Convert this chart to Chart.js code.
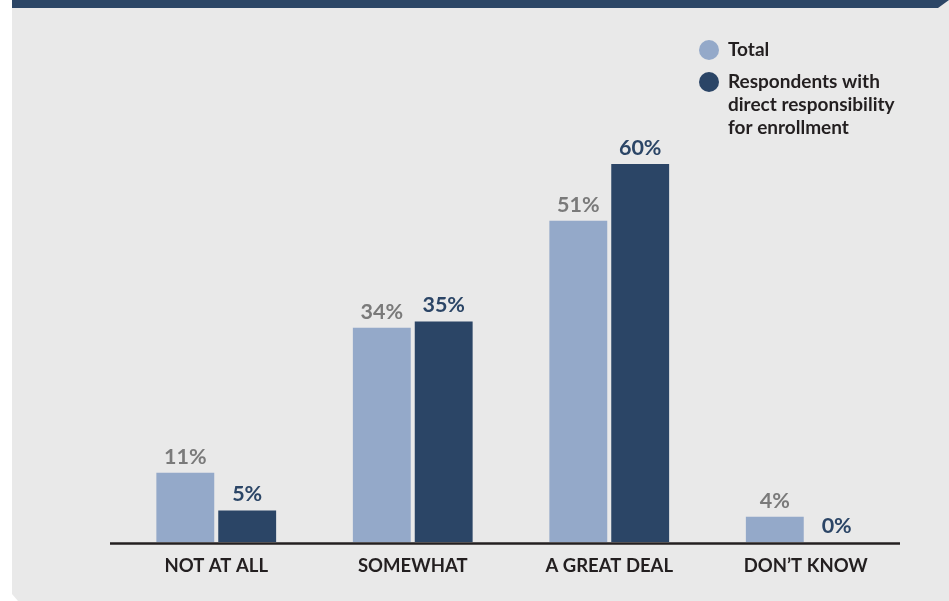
<!DOCTYPE html>
<html>
<head>
<meta charset="utf-8">
<script src="https://cdn.jsdelivr.net/npm/chart.js@4"></script>
<style>
  html, body { margin: 0; padding: 0; background: #ffffff; }
  #wrap { position: relative; width: 949px; height: 601px; overflow: hidden; }
  #panel {
    position: absolute; left: 12px; top: 0; width: 937px; height: 601px;
    background: #e9e9e9;
    clip-path: polygon(0 0, 100% 0, 100% 100%, 6px 100%, 0 594px);
  }
  #band {
    position: absolute; left: 12px; top: 0; width: 937px; height: 8px;
    background: #2c4666;
    clip-path: polygon(0 0, 100% 0, 926px 100%, 0 100%);
  }
  canvas { position: absolute; left: 0; top: 0; }
</style>
</head>
<body>
<div id="wrap">
  <div id="panel"></div>
  <div id="band"></div>
  <canvas id="chart" width="949" height="601"></canvas>
</div>
<script>
/* data */
const categories = ['NOT AT ALL', 'SOMEWHAT', 'A GREAT DEAL', 'DON\u2019T KNOW'];
const totalValues = [11, 34, 51, 4];
const directValues = [5, 35, 60, 0];
const totalLabel = ['Total'];
const directLabel = ['Respondents with', 'direct responsibility', 'for enrollment'];

/* styles */
const LIGHT = '#94a9c9';
const DARK = '#2b4566';
const TEXT = '#231f20';
const GRAY_TEXT = '#7a7a7a';
const FONT = 'Lato, "Open Sans", sans-serif';

const valueLabels = {
  id: 'valueLabels',
  afterDatasetsDraw: (chart) => {
    const ctx = chart.ctx;
    ctx.save();
    ctx.font = 'bold 21.5px ' + FONT;
    ctx.textAlign = 'center';
    ctx.textBaseline = 'middle';
    chart.data.datasets.forEach((dataset, i) => {
      const meta = chart.getDatasetMeta(i);
      ctx.fillStyle = dataset.labelColor;
      meta.data.forEach((bar, j) => {
        ctx.fillText(dataset.data[j] + '%', bar.x, bar.y - 16);
      });
    });
    ctx.restore();
  },
};

const axisLine = {
  id: 'axisLine',
  afterDatasetsDraw: (chart) => {
    const ctx = chart.ctx;
    const area = chart.chartArea;
    ctx.save();
    ctx.strokeStyle = TEXT;
    ctx.lineWidth = 2.5;
    ctx.beginPath();
    ctx.moveTo(area.left - 8, area.bottom + 1.5);
    ctx.lineTo(area.right - 4, area.bottom + 1.5);
    ctx.stroke();
    ctx.restore();
  },
};

const sideLegend = {
  id: 'sideLegend',
  afterDraw: (chart) => {
    const ctx = chart.ctx;
    let y = 50;
    ctx.save();
    ctx.font = 'bold 19px ' + FONT;
    ctx.textAlign = 'left';
    ctx.textBaseline = 'middle';
    chart.data.datasets.forEach((dataset) => {
      ctx.fillStyle = dataset.backgroundColor;
      ctx.beginPath();
      ctx.arc(709, y, 10, 0, Math.PI * 2);
      ctx.fill();
      ctx.fillStyle = TEXT;
      dataset.legendLines.forEach((line, k) => {
        ctx.fillText(line, 728, y + k * 23);
      });
      y += 32;
    });
    ctx.restore();
  },
};

new Chart(document.getElementById('chart'), {
  type: 'bar',
  data: {
    labels: categories,
    datasets: [
      {
        label: totalLabel.join(' '),
        legendLines: totalLabel,
        data: totalValues,
        backgroundColor: LIGHT,
        labelColor: GRAY_TEXT,
        categoryPercentage: 0.63,
        barPercentage: 0.935,
      },
      {
        label: directLabel.join(' '),
        legendLines: directLabel,
        data: directValues,
        backgroundColor: DARK,
        labelColor: DARK,
        categoryPercentage: 0.63,
        barPercentage: 0.935,
      },
    ],
  },
  options: {
    responsive: false,
    animation: false,
    layout: {
      padding: { top: 101, left: 118, right: 45, bottom: 0 },
    },
    plugins: {
      legend: { display: false },
      tooltip: { enabled: false },
    },
    scales: {
      x: {
        grid: { display: false, drawTicks: false },
        border: { display: false },
        ticks: {
          color: TEXT,
          padding: 13,
          font: { family: FONT, size: 18.5, weight: 'bold' },
        },
        afterFit: (scale) => {
          scale.height = 59;
        },
      },
      y: {
        display: false,
        min: 0,
        max: 70,
      },
    },
  },
  plugins: [valueLabels, axisLine, sideLegend],
});
</script>
</body>
</html>
